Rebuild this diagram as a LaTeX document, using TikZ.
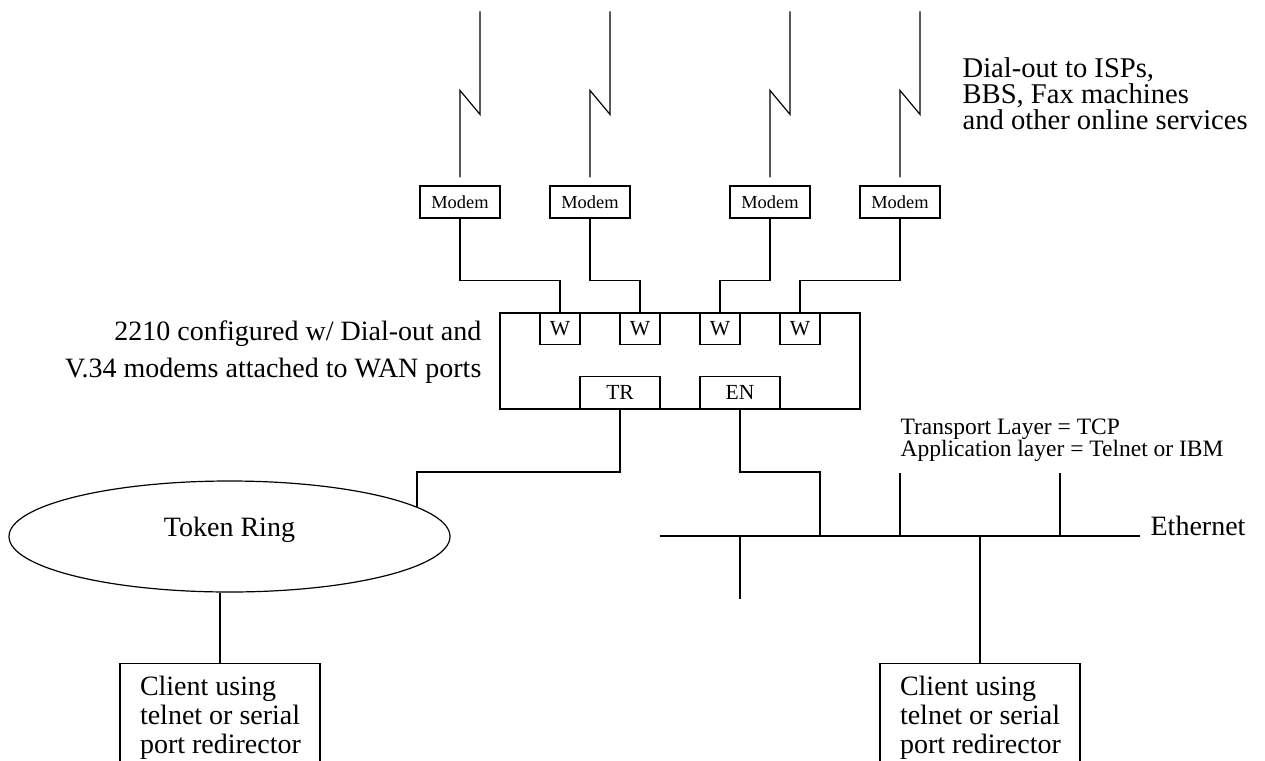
\documentclass[tikz,border=0pt]{standalone}
\usepackage{fontspec}
\setmainfont{Liberation Serif}
\usetikzlibrary{shapes.geometric}

\newcommand\tightlines{\lineskiplimit=-20pt\relax}

\tikzset{
  modembox/.style={draw, minimum width=40pt, minimum height=16pt, inner sep=0pt, font=\fontsize{9.2}{11}\selectfont},
  portbox/.style={draw, minimum width=20pt, minimum height=15.5pt, inner sep=0pt, font=\fontsize{10.75}{12}\selectfont},
  lanport/.style={draw, minimum width=40pt, minimum height=16pt, inner sep=0pt, font=\fontsize{10.75}{12}\selectfont},
  clientbox/.style={draw, minimum width=100pt, minimum height=60pt, inner sep=0pt},
  bigtext/.style={inner sep=0pt, font=\fontsize{14}{18.5}\selectfont},
  clienttext/.style={inner sep=0pt, align=left, font=\fontsize{14}{14.5}\selectfont},
}

\begin{document}
\begin{tikzpicture}[x=0.5pt, y=-0.5pt, line width=0.6pt]
    \useasboundingbox (0,0) rectangle (1265,761);
    \foreach \i/\x in {1/460, 2/590, 3/770, 4/900} {
      \node[modembox] (m\i) at (\x,202) {Modem};
      \draw ([yshift=4pt]m\i.north) -- ++(0,-87) -- ++(20,24) -- ++(0,-103);
    }
    \node[inner sep=0pt, align=left, anchor=north west, font=\fontsize{14.3}{13}\selectfont\tightlines] (dialout) at (962,57)
      {Dial-out to ISPs,\\BBS, Fax machines\\and other online services};

    % the 2210
    \node[draw, minimum width=180pt, minimum height=48pt, inner sep=0pt] (router) at (680,361) {};
    \foreach \i/\x in {1/560, 2/640, 3/720, 4/800} { \node[portbox, anchor=north] (w\i) at (\x,313) {W}; }
    \node[lanport, anchor=south] (tr) at (620,409) {TR};
    \node[lanport, anchor=south] (en) at (740,409) {EN};
    \node[bigtext, align=right, anchor=east] (routerlabel) at (482,352)
      {2210 configured w/ Dial-out and\\V.34 modems attached to WAN ports};
    \foreach \i in {1,...,4} { \draw (m\i.south) -- ++(0,62) -| (w\i.north); }

    % token ring side
    \node[draw, ellipse, minimum width=220.5pt, minimum height=55.5pt, inner sep=0pt, text height=5pt, text depth=5pt, font=\fontsize{14}{16}\selectfont] (tokenring) at (229.5,536.5) {Token Ring};
    \draw (tr.south) -- ++(0,63) -| (tokenring.9);
    \node[clientbox, anchor=north] (c1) at (220,663) {};
    \node[clienttext, anchor=north west] (c1text) at ([xshift=10pt,yshift=-6pt]c1.north west)
      {Client using\\telnet or serial\\port redirector};
    \draw (c1.north) -- (c1.north |- tokenring.south);

    % ethernet side
    \coordinate (ethW) at (660,536);
    \coordinate (ethE) at (1140,536);
    \coordinate (tapEN) at (820,536);
    \draw (ethW) -- (ethE);
    \node[bigtext, anchor=base west] (ethlabel) at (1150,535) {Ethernet};
    \draw (en.south) -- ++(0,63) -| (tapEN);
    \foreach \x/\y [count=\k] in {900/473, 1060/473, 740/599} {
      \coordinate (tap\k) at (\x,536);
      \draw (tap\k) -- (\x,\y);
    }
    \node[inner sep=0pt, align=left, anchor=north west, font=\fontsize{11.75}{11}\selectfont\tightlines] (tcplabel) at (900,418)
      {Transport Layer = TCP\\Application layer = Telnet or IBM};
    \node[clientbox, anchor=north] (c2) at (980,663) {};
    \node[clienttext, anchor=north west] (c2text) at ([xshift=10pt,yshift=-6pt]c2.north west)
      {Client using\\telnet or serial\\port redirector};
    \draw (c2.north) -- (c2.north |- ethW);
\end{tikzpicture}
\end{document}
